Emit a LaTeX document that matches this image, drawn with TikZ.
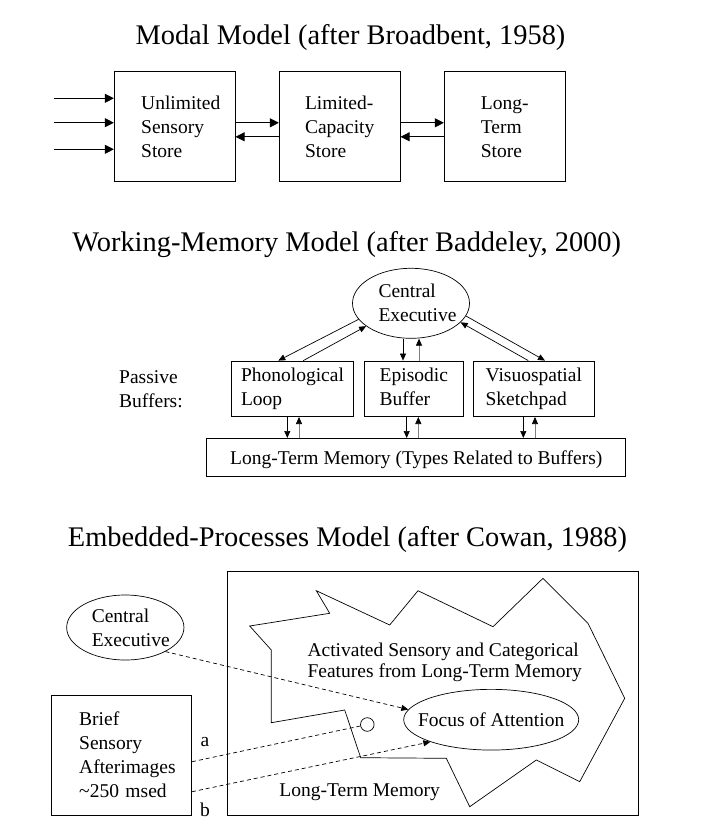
\documentclass[tikz,border=0pt]{standalone}
\usepackage{fontspec}
\setmainfont{Liberation Serif}
\usetikzlibrary{arrows.meta,shapes.geometric}

\begin{document}
\begin{tikzpicture}[x=1pt, y=-1pt,
    txt/.style={font=\fontsize{19.5pt}{24pt}\selectfont, align=left, inner sep=0pt},
    ttl/.style={font=\fontsize{28.4pt}{34pt}\selectfont, anchor=base, inner sep=0pt},
    store/.style={txt, draw, line width=0.7pt},
    oval/.style={txt, draw, ellipse, line width=0.7pt},
    bigarr/.style={line width=0.7pt, -{Triangle[length=9pt, width=9pt]}},
    arr/.style={line width=0.7pt, -{Triangle[length=7pt, width=6pt]}},
    grayarr/.style={line width=0.7pt, draw=gray, -{Triangle[length=7pt, width=6pt, color=black]}},
    dashedarr/.style={line width=0.7pt, dash pattern=on 4pt off 3pt, -{Triangle[length=7pt, width=6pt]}},
    dashedline/.style={line width=0.7pt, dash pattern=on 4pt off 3pt}]

\useasboundingbox (0,0) rectangle (706,832);

% Modal model
\node[ttl] (t1) at (350.5,45) {Modal Model (after Broadbent, 1958)};
\node[store, minimum width=121pt, minimum height=110pt, text width=67pt] (uss) at (174.7,126.8) {Unlimited\\Sensory\\Store};
\node[store, minimum width=121pt, minimum height=110pt] (lcs) at (339.7,126.8) {Limited-\\Capacity\\Store};
\node[store, minimum width=121pt, minimum height=110pt] (lts) at (504.7,126.8) {Long-\\Term\\Store};

% inputs into the sensory store
\foreach \y [count=\i] in {98.3,122.7,149.3} {
    \coordinate (in\i) at (54,\y);
    \draw[bigarr] (in\i) -- (in\i -| uss.west);
}

% flow between the stores
\draw[bigarr] ([yshift=4pt]uss.east) -- ([yshift=4pt]lcs.west);
\draw[bigarr] ([yshift=-10pt]lcs.west) -- ([yshift=-10pt]uss.east);
\draw[bigarr] ([yshift=4pt]lcs.east) -- ([yshift=4pt]lts.west);
\draw[bigarr] ([yshift=-10pt]lts.west) -- ([yshift=-10pt]lcs.east);

% Working-memory model
\node[ttl] (t2) at (346.7,251.7) {Working-Memory Model (after Baddeley, 2000)};
\node[oval, minimum width=117pt, minimum height=70pt, text width=65pt] (ce2) at (411,303.3) {Central\\Executive};
\node[store, minimum width=121.6pt, minimum height=55.7pt] (phon) at (292.5,388.8) {Phonological\\Loop};
\node[store, minimum width=99pt, minimum height=55.7pt] (epi) at (413.8,388.8) {Episodic\\Buffer\vphantom{p}};
\node[store, minimum width=121pt, minimum height=55.7pt] (visuo) at (533.8,388.8) {Visuospatial\\Sketchpad};
\node[store, minimum width=419pt, minimum height=37.7pt, text height=19pt, text depth=4pt] (ltm2) at (416.2,457.2) {Long-Term Memory (Types Related to Buffers)};
\node[txt, anchor=west] (pb) at (119,388.8) {Passive\\Buffers:};

% executive to buffers
\draw[arr] (ce2.197) -- ([xshift=-14.2pt]phon.north);
\draw[arr] ([xshift=10.8pt]phon.north) -- (ce2.207);
\draw[arr] ([xshift=-8pt]ce2.south) -- ([xshift=-8pt]ce2.south |- epi.north);
\draw[grayarr] ([xshift=8pt]ce2.south |- epi.north) -- ([xshift=8pt]ce2.south);
\draw[arr] (ce2.347) -- ([xshift=11.2pt]visuo.north);
\draw[arr] ([xshift=-5.5pt]visuo.north) -- (ce2.339);

% buffers to long-term memory
\foreach \b/\dn/\up in {phon/-5.2/6.5, epi/-7.1/4.5, visuo/-10.5/1.2} {
    \draw[arr] ([xshift=\dn pt]\b.south) -- ([xshift=\dn pt]\b.south |- ltm2.north);
    \draw[grayarr] ([xshift=\up pt]\b.south |- ltm2.north) -- ([xshift=\up pt]\b.south);
}

% Embedded-processes model
\node[ttl] (t3) at (347.5,546.7) {Embedded-Processes Model (after Cowan, 1988)};
\draw[line width=0.7pt] (227,571.7) rectangle (638.5,815.5);
\draw[line width=0.7pt] (271.3,722.7) -- (271.3,650) -- (249.7,626) -- (329.7,613.3)
    -- (316.3,590.7) -- (389.7,625) -- (418,590.7) -- (493,626.7) -- (543,578.3)
    -- (588,623.3) -- (624.7,698.3) -- (579.7,781.7) -- (536.3,760) -- (469.7,806.7)
    -- (446.3,758.3) -- (360.7,757.7) -- (344.7,710) -- cycle;

\node[txt, font=\fontsize{19.5pt}{21pt}\selectfont] (act) at (444.7,662) {Activated Sensory and Categorical\\Features from Long-Term Memory};
\node[txt] (ltm3) at (359.7,792) {Long-Term Memory};
\node[oval, minimum width=175pt, minimum height=60.7pt, inner xsep=-13pt] (foa) at (491.2,719.7) {Focus of Attention};
\node[draw, circle, minimum size=13.6pt, inner sep=0pt, line width=0.7pt] (dot) at (367.3,724.5) {};
\node[oval, minimum width=117.3pt, minimum height=65pt, text width=67pt] (ce3) at (125.3,627.5) {Central\\Executive};
\node[store, minimum width=140pt, minimum height=120pt, text width=85pt] (bsa) at (121.7,755) {Brief\\Sensory\\Afterimages\\\mbox{\textasciitilde250 msed}};
\node[txt] (la) at (205,741.7) {a};
\node[txt] (lb) at (205,810) {b};

% attention links
\draw[dashedarr] (ce3.-31) -- (foa.173);
\draw[dashedline] ([yshift=-6.7pt]bsa.east) -- (dot);
\draw[dashedarr] ([yshift=-36.7pt]bsa.east) -- (foa.200);

\end{tikzpicture}
\end{document}
